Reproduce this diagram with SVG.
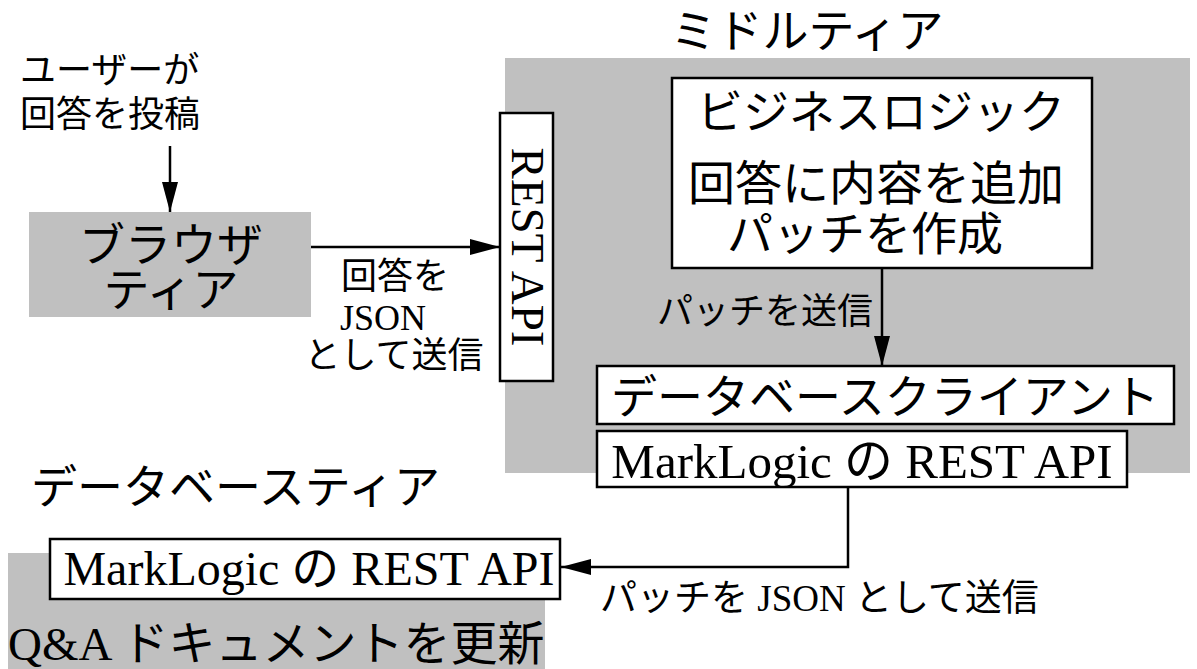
<svg xmlns="http://www.w3.org/2000/svg" width="1197" height="669" viewBox="0 0 1197 669">
<style>
.jp{font-family:"Noto Sans CJK JP","Noto Sans CJK SC",sans-serif;fill:#000}
.mx{font-family:"Liberation Serif","Noto Sans CJK JP",serif;fill:#000}
.tier{fill:#c0c0c0;stroke:none}
.box{fill:#fff;stroke:#000;stroke-width:2.5}
.ln{fill:none;stroke:#000;stroke-width:2.5}
</style>
<defs>
<marker id="ah" markerWidth="30" markerHeight="16" refX="30" refY="8" orient="auto" markerUnits="userSpaceOnUse">
<path d="M0,0 L30,8 L0,16 Z" fill="#000"/>
</marker>
</defs>
<rect width="1197" height="669" fill="#fff"/>
<g id="middle-tier">
<rect class="tier" x="505" y="58" width="685" height="415"/>
<text class="jp" x="807" y="47" font-size="46" text-anchor="middle">ミドルティア</text>
</g>
<g id="db-tier">
<rect class="tier" x="8" y="553" width="537" height="116"/>
<text class="jp" x="31" y="503" font-size="46">データベースティア</text>
<text class="mx" x="8" y="660" font-size="47">Q&amp;A ドキュメントを更新</text>
</g>
<g id="user-label">
<text class="jp" x="20" y="83" font-size="36">ユーザーが</text>
<text class="jp" x="20" y="127" font-size="36">回答を投稿</text>
</g>
<g id="browser-tier">
<rect class="tier" x="29" y="212" width="282" height="105"/>
<text class="jp" x="171" y="261" font-size="46" text-anchor="middle">ブラウザ</text>
<text class="jp" x="171" y="306" font-size="46" text-anchor="middle">ティア</text>
</g>
<g id="rest-api">
<rect class="box" x="500" y="113" width="53" height="268"/>
<text class="mx" font-size="47" text-anchor="middle" transform="translate(512,247) rotate(90)">REST API</text>
</g>
<g id="business-logic">
<rect class="box" x="672" y="78" width="420" height="190"/>
<text class="jp" x="881" y="128" font-size="46" text-anchor="middle">ビジネスロジック</text>
<text class="jp" x="876" y="200" font-size="47" text-anchor="middle">回答に内容を追加</text>
<text class="jp" x="865" y="250" font-size="46" text-anchor="middle">パッチを作成</text>
</g>
<g id="db-client">
<rect class="box" x="597" y="366" width="577" height="58"/>
<text class="jp" x="885" y="413" font-size="46" text-anchor="middle">データベースクライアント</text>
</g>
<g id="marklogic-mid">
<rect class="box" x="597" y="431" width="530" height="56"/>
<text class="mx" x="862" y="478" font-size="49" text-anchor="middle">MarkLogic の REST API</text>
</g>
<g id="marklogic-db">
<rect class="box" x="50" y="539" width="510" height="60"/>
<text class="mx" x="309" y="585" font-size="48" text-anchor="middle">MarkLogic の REST API</text>
</g>
<g id="connectors">
<line class="ln" x1="170" y1="146" x2="170" y2="212" marker-end="url(#ah)"/>
<line class="ln" x1="311" y1="247" x2="500" y2="247" marker-end="url(#ah)"/>
<line class="ln" x1="882" y1="268" x2="882" y2="366" marker-end="url(#ah)"/>
<polyline class="ln" points="848,487 848,567 561,567" marker-end="url(#ah)"/>
</g>
<g id="labels">
<text class="jp" x="395" y="289" font-size="36" text-anchor="middle">回答を</text>
<text class="mx" x="383" y="330" font-size="36" text-anchor="middle">JSON</text>
<text class="jp" x="394" y="368" font-size="36" text-anchor="middle">として送信</text>
<text class="jp" x="657" y="324" font-size="36">パッチを送信</text>
<text class="mx" x="600" y="611" font-size="37">パッチを JSON として送信</text>
</g>
</svg>
